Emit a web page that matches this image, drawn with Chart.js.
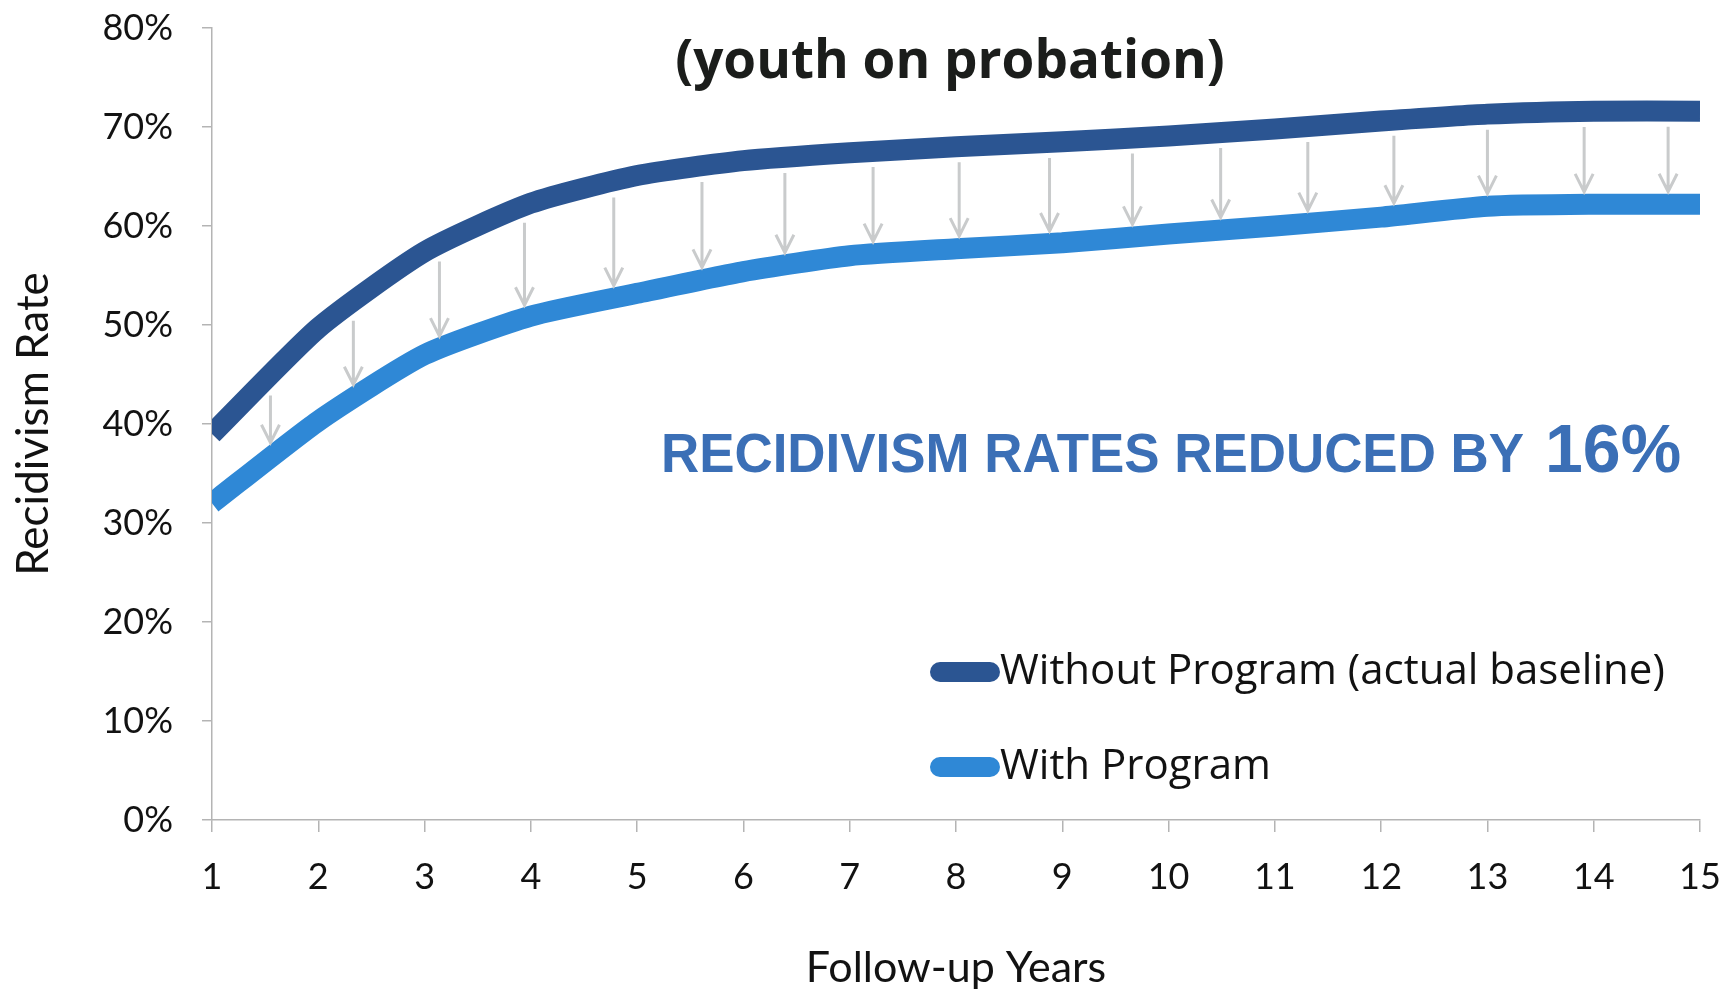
<!DOCTYPE html>
<html>
<head>
<meta charset="utf-8">
<script src="https://cdn.jsdelivr.net/npm/chart.js@4.4.1/dist/chart.umd.min.js"></script>
<style>
html,body{margin:0;padding:0;background:#ffffff;}
#wrap{width:1731px;height:994px;position:relative;}
</style>
</head>
<body>
<div id="wrap"><canvas id="c"></canvas></div>
<script>
// ---- data ----
const years = [1, 2, 3, 4, 5, 6, 7, 8, 9, 10, 11, 12, 13, 14, 15];
const withoutProgram = [39.0, 49.7, 57.4, 62.3, 65.1, 66.6, 67.4, 68.0, 68.5, 69.1, 69.8, 70.6, 71.3, 71.6, 71.6];
const withProgram = [32.0, 40.3, 47.0, 50.9, 53.2, 55.4, 57.0, 57.7, 58.3, 59.2, 60.0, 60.9, 62.0, 62.2, 62.2];
const yTickValues = [0, 10, 20, 30, 40, 50, 60, 70, 80];
const arrowYears = [1.55, 2.33, 3.14, 3.94, 4.78, 5.61, 6.39, 7.22, 8.03, 8.88, 9.66, 10.49, 11.31, 12.12, 13.0, 13.91, 14.70];
const seriesLabels = ['Without Program (actual baseline)', 'With Program'];
const titleText = '(youth on probation)';
const noteText = 'RECIDIVISM RATES REDUCED BY';
const noteValue = '16%';
const xAxisTitle = 'Follow-up Years';
const yAxisTitle = 'Recidivism Rate';

// ---- styles ----
const DARK = '#2b5592';
const LIGHT = '#2f88d6';
const AXIS = '#b4b4b4';
const TEXT = '#121212';
const LINE_W = 21;

function valueAt(arr, x) {
  let i = Math.min(Math.max(Math.floor(x) - years[0], 0), years.length - 2);
  const t = (x - years[i]) / (years[i + 1] - years[i]);
  return { v: arr[i] + (arr[i + 1] - arr[i]) * t, i: i };
}

const decorPlugin = {
  id: 'decor',
  afterDatasetsDraw(chart) {
    const ctx = chart.ctx;
    const xs = chart.scales.x, ys = chart.scales.y;
    ctx.save();
    // arrows between the two lines
    ctx.strokeStyle = '#c9cbcc';
    ctx.lineWidth = 3;
    ctx.lineCap = 'butt';
    arrowYears.forEach(function (ax) {
      const px = xs.getPixelForValue(ax);
      function edge(arr) {
        const r = valueAt(arr, ax);
        const x0 = xs.getPixelForValue(years[r.i]), x1 = xs.getPixelForValue(years[r.i + 1]);
        const y0 = ys.getPixelForValue(arr[r.i]), y1 = ys.getPixelForValue(arr[r.i + 1]);
        const slope = (y1 - y0) / (x1 - x0);
        return { y: ys.getPixelForValue(r.v), half: LINE_W / 2 * Math.sqrt(1 + slope * slope) };
      }
      const top = edge(withoutProgram);
      const bot = edge(withProgram);
      const y0 = top.y + top.half + 5;
      const y1 = bot.y - bot.half - 2;
      ctx.beginPath();
      ctx.moveTo(px, y0);
      ctx.lineTo(px, y1);
      ctx.moveTo(px - 9, y1 - 18);
      ctx.lineTo(px, y1);
      ctx.lineTo(px + 9, y1 - 18);
      ctx.stroke();
    });
    ctx.restore();
  },
  afterDraw(chart) {
    const ctx = chart.ctx;
    const area = chart.chartArea;
    ctx.save();
    // title
    ctx.fillStyle = '#1b1d1b';
    ctx.font = 'bold 53px "Open Sans"';
    ctx.textAlign = 'center';
    ctx.textBaseline = 'alphabetic';
    ctx.fillText(titleText, (area.left + area.right) / 2 - 6, 78);
    // annotation
    ctx.fillStyle = '#3b6fb6';
    ctx.textAlign = 'left';
    ctx.font = 'bold 55px "Liberation Sans"';
    ctx.fillText(noteText, 661, 472, 863);
    ctx.font = 'bold 68px "Liberation Sans"';
    ctx.fillText(noteValue, 1545, 472);
    // legend
    const rows = [672, 767];
    chart.data.datasets.forEach(function (ds, k) {
      ctx.strokeStyle = ds.borderColor;
      ctx.lineWidth = 20;
      ctx.lineCap = 'round';
      ctx.beginPath();
      ctx.moveTo(940, rows[k]);
      ctx.lineTo(990, rows[k]);
      ctx.stroke();
      ctx.fillStyle = TEXT;
      ctx.font = '42px "Open Sans"';
      ctx.textBaseline = 'alphabetic';
      ctx.fillText(ds.label, 1000, rows[k] + 12);
    });
    ctx.restore();
  }
};

new Chart(document.getElementById('c'), {
  type: 'line',
  data: {
    datasets: [
      {
        label: seriesLabels[0],
        data: years.map(function (x, i) { return { x: x, y: withoutProgram[i] }; }),
        borderColor: DARK,
        backgroundColor: DARK,
        borderWidth: LINE_W,
        pointRadius: 0,
        tension: 0.2,
        borderJoinStyle: 'round',
        fill: false
      },
      {
        label: seriesLabels[1],
        data: years.map(function (x, i) { return { x: x, y: withProgram[i] }; }),
        borderColor: LIGHT,
        backgroundColor: LIGHT,
        borderWidth: LINE_W,
        pointRadius: 0,
        tension: 0.2,
        borderJoinStyle: 'round',
        fill: false
      }
    ]
  },
  options: {
    responsive: true,
    maintainAspectRatio: false,
    animation: false,
    layout: { padding: { top: 0, right: 0, bottom: 0, left: 0 } },
    plugins: {
      legend: { display: false },
      tooltip: { enabled: false }
    },
    scales: {
      x: {
        type: 'linear',
        min: years[0],
        max: years[years.length - 1],
        afterBuildTicks: function (s) { s.ticks = years.map(function (v) { return { value: v }; }); },
        afterFit: function (s) { s.height = 174; s.paddingLeft = 0; s.paddingRight = 31; },
        ticks: {
          autoSkip: false,
          maxRotation: 0,
          color: TEXT,
          font: { family: 'Lato', size: 36 },
          padding: 24,
          callback: function (v) { return String(v); }
        },
        grid: { drawOnChartArea: false, drawTicks: true, tickLength: 12, color: AXIS, lineWidth: 1.5 },
        border: { display: true, color: AXIS, width: 1.5 },
        title: {
          display: true,
          text: xAxisTitle,
          color: TEXT,
          font: { family: 'Lato', size: 43 },
          padding: { top: 0, bottom: 0 }
        }
      },
      y: {
        min: 0,
        max: 80,
        afterBuildTicks: function (s) { s.ticks = yTickValues.map(function (v) { return { value: v }; }); },
        afterFit: function (s) { s.width = 212; s.paddingTop = 28; s.paddingBottom = 0; },
        ticks: {
          color: TEXT,
          font: { family: 'Lato', size: 36 },
          padding: 29,
          callback: function (v) { return v + '%'; }
        },
        grid: { drawOnChartArea: false, drawTicks: true, tickLength: 10, color: AXIS, lineWidth: 1.5 },
        border: { display: true, color: AXIS, width: 1.5 },
        title: {
          display: true,
          text: yAxisTitle,
          color: TEXT,
          font: { family: 'Lato', size: 44 },
          padding: { top: 7, bottom: 0 }
        }
      }
    }
  },
  plugins: [decorPlugin]
});
</script>
</body>
</html>
